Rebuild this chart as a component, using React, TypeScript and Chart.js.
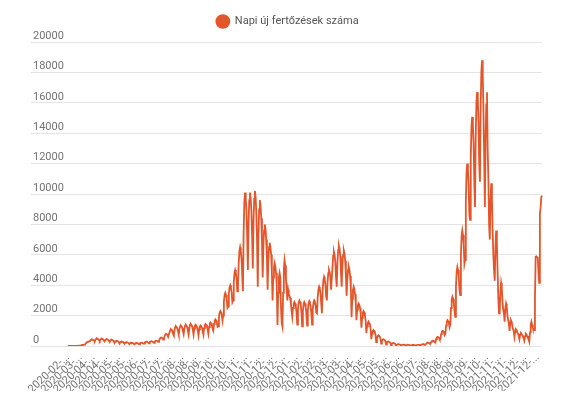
import React, { useEffect, useRef } from "react";
import { Chart, registerables } from "chart.js";

Chart.register(...registerables);

const SERIES_LABEL = "Napi új fertőzések száma";
const START_DATE = [2020, 1, 28]; // 2020-02-28 (month is 0-based)
const LABEL_STEP = 18;
const Y_MIN = 0;
const Y_MAX = 20000;
const Y_STEP = 2000;

// daily new infections
const cases2020Spring = [
  0, 1, 0,
  0, 1, 1, 2, 1, 2, 3,
  3, 5, 8, 10, 12, 16, 20,
  25, 35, 50, 60, 75, 80, 90,
  120, 160, 210, 250, 270, 280, 300,
  330, 380, 410, 430, 420, 390, 340,
  320, 420, 470, 500, 480, 440, 380,
  330, 420, 460, 480, 460, 420, 360,
  300, 390, 430, 450, 430, 400, 340,
  260, 360, 400, 420, 400, 360, 300,
  200, 290, 330, 350, 330, 300, 250,
  160, 240, 280, 300, 290, 260, 210,
  140, 210, 240, 250, 240, 220, 180,
  120, 180, 210, 220, 210, 190, 160,
  110, 160, 190, 200, 190, 170, 150,
  110, 170, 210, 220, 210, 190, 160,
  150, 230, 270, 280, 270, 250, 210,
  180, 260, 300, 320, 310, 280, 240,
  200, 290, 330, 350, 340, 310, 270,
];

const cases2020Autumn = [
  300, 450, 530, 560, 540, 500, 420,
  450, 660, 760, 800, 780, 720, 600,
  600, 900, 1050, 1100, 1060, 980, 800,
  700, 1060, 1240, 1300, 1250, 1150, 950,
  750, 1110, 1290, 1350, 1300, 1190, 980,
  800, 1160, 1340, 1400, 1340, 1230, 1000,
  750, 1170, 1380, 1450, 1390, 1280, 1040,
  750, 1140, 1340, 1400, 1340, 1230, 1000,
  700, 1090, 1290, 1350, 1300, 1190, 970,
  750, 1170, 1380, 1450, 1390, 1280, 1040,
  800, 1250, 1480, 1550, 1490, 1360, 1120,
  1000, 1450, 1680, 1750, 1680, 1540, 1260,
  1300, 1900, 2200, 2300, 2210, 2020, 1660,
  2000, 2900, 3350, 3500, 3360, 3080, 2520,
  2600, 3440, 3860, 4000, 3840, 3520, 2880,
  3000, 4200, 4800, 5000, 4800, 4400, 3600,
  3900, 5460, 6240, 6500, 6240, 5720, 4680,
  3600, 7500, 9450, 10100, 9700, 8900, 7270,
  5000, 8060, 9590, 10100, 9700, 8890, 7270,
  5100, 8200, 9700, 10200, 9800, 8700, 7000,
  3900, 7300, 9000, 9600, 9200, 8400, 6900,
  4500, 6600, 7600, 8000, 7700, 7000, 5800,
  3700, 5600, 6500, 6800, 6500, 6000, 4900,
  3000, 4500, 5200, 5450, 5200, 4800, 3900,
  1380, 3500, 4500, 4800, 4500, 2500, 1500,
  1270, 3500, 5000, 5650, 5300, 4400, 3700,
  3000, 3700, 3400, 3300, 3150, 2800, 2300,
];

const cases2021Spring = [
  1920, 2500, 2800, 2900, 2800, 2600, 2200,
  1400, 2400, 2850, 3000, 2900, 2700, 2200,
  1300, 2300, 2750, 2900, 2800, 2550, 2100,
  1350, 2350, 2800, 2950, 2850, 2600, 2150,
  1400, 2400, 2850, 3000, 2900, 2650, 2200,
  2150, 3200, 3700, 3900, 3750, 3450, 2800,
  2150, 3600, 4300, 4550, 4400, 4000, 3300,
  3000, 4200, 4800, 5000, 4850, 4500, 3700,
  3700, 5200, 5950, 6200, 6000, 5500, 4500,
  3900, 5500, 6300, 6600, 6400, 5900, 4800,
  3900, 5300, 6000, 6300, 6100, 5600, 4600,
  3300, 4400, 5000, 5200, 5000, 4600, 3800,
  1900, 3100, 3700, 3900, 3700, 3400, 2800,
  1700, 2400, 2700, 2800, 2700, 2500, 2100,
  1200, 1850, 2200, 2300, 2200, 2000, 1650,
  850, 1300, 1500, 1600, 1500, 1400, 1150,
  450, 800, 980, 1050, 1000, 900, 720,
  250, 520, 650, 700, 660, 600, 480,
  150, 330, 420, 450, 430, 390, 310,
  100, 220, 280, 300, 280, 250, 200,
  60, 140, 180, 200, 190, 170, 130,
  40, 90, 110, 120, 110, 100, 80,
  30, 60, 80, 90, 85, 75, 55,
  30, 55, 75, 80, 75, 65, 50,
  25, 50, 65, 70, 65, 60, 45,
  30, 60, 75, 80, 80, 70, 55,
];

const cases2021Autumn = [
  50, 90, 110, 120, 115, 105, 85,
  90, 160, 200, 220, 210, 190, 150,
  150, 270, 330, 350, 340, 310, 250,
  250, 460, 560, 600, 580, 530, 430,
  450, 780, 950, 1000, 970, 900, 720,
  800, 1340, 1620, 1700, 1640, 1500, 1230,
  1400, 2500, 3050, 3240, 3100, 2850, 2300,
  1920, 3900, 4900, 5200, 5000, 4600, 3700,
  3350, 5900, 7200, 7600, 7300, 6700, 5400,
  5650, 9500, 11400, 12000, 11500, 10600, 8600,
  8300, 12400, 14400, 15070, 14500, 13300, 10800,
  9150, 13700, 16000, 16700, 16270, 14700, 12000,
  10800, 15600, 18000, 18800, 17800, 15500, 12500,
  9150, 13500, 15900, 16700, 12900, 10900, 8000,
  7000, 9500, 10700, 9800, 7600, 6000, 5000,
  4300, 6500, 7600, 6800, 5000, 3200, 2150,
  2150, 3600, 4150, 3800, 2900, 2400, 2150,
  1600, 2500, 2800, 2600, 2000, 1700, 1500,
  1000, 1500, 1700, 1600, 1300, 1100, 940,
  600, 950, 1100, 1050, 900, 800, 650,
  450, 750, 850, 800, 700, 620, 500,
  350, 650, 800, 750, 650, 550, 420,
  280, 900, 1400, 1600, 1400, 1200, 1050,
  1050, 3000, 5870, 5900, 5850, 5800, 4800,
  4150, 8700, 9100, 9800, 9900,
];

const dailyCases = [
  ...cases2020Spring,
  ...cases2020Autumn,
  ...cases2021Spring,
  ...cases2021Autumn,
];

// category labels: one date per data point
const dateLabels: string[] = dailyCases.map((_, i) =>
  new Date(Date.UTC(START_DATE[0], START_DATE[1], START_DATE[2]) + i * 86400000)
    .toISOString()
    .slice(0, 10)
);

const LINE_COLOR = "#e3562b";
const TICK_COLOR = "#737373";
const GRID_COLOR = "#e4e4e4";

const legendHeightPlugin = {
  id: "legendHeight",
  beforeInit(chart: any) {
    const legend = chart.legend;
    if (!legend || legend.__patched) return;
    const origFit = legend.fit;
    legend.fit = function () {
      origFit.call(this);
      this.height = 34;
    };
    legend.__patched = true;
  },
};

export default function App() {
  const canvasRef = useRef<HTMLCanvasElement | null>(null);

  useEffect(() => {
    if (!canvasRef.current) return;
    Chart.defaults.font.family = "Roboto";
    const chart = new Chart(canvasRef.current, {
      type: "line",
      data: {
        labels: dateLabels,
        datasets: [
          {
            label: SERIES_LABEL,
            data: dailyCases,
            borderColor: LINE_COLOR,
            backgroundColor: LINE_COLOR,
            borderWidth: 1.8,
            pointRadius: 0,
            pointHoverRadius: 0,
            tension: 0,
            fill: false,
          },
        ],
      },
      options: {
        animation: false,
        responsive: true,
        maintainAspectRatio: false,
        layout: { padding: { left: 25, right: 25, top: 0, bottom: 0 } },
        plugins: {
          legend: {
            display: true,
            position: "top",
            labels: {
              usePointStyle: true,
              pointStyle: "circle",
              boxWidth: 9,
              boxHeight: 9,
              pointStyleWidth: 13,
              padding: 8,
              color: "#555555",
              font: { size: 11, family: "Roboto" },
            },
          },
          tooltip: { enabled: false },
        },
        scales: {
          x: {
            type: "category",
            grid: { display: false, drawTicks: false },
            border: { display: false },
            afterFit: (scale: any) => {
              scale.height = 45;
            },
            ticks: {
              autoSkip: false,
              minRotation: 43,
              maxRotation: 43,
              padding: 5,
              color: TICK_COLOR,
              font: { size: 11, family: "Roboto" },
              callback: (_v: any, index: number) =>
                index % LABEL_STEP === 0 ? dateLabels[index].slice(0, 8) + "..." : null,
            },
          },
          y: {
            min: Y_MIN,
            max: Y_MAX,
            afterFit: (scale: any) => {
              scale.width = 35;
            },
            grid: { color: GRID_COLOR, tickLength: 37, drawTicks: true, lineWidth: 1 },
            border: { display: false },
            ticks: {
              stepSize: Y_STEP,
              crossAlign: "far",
              labelOffset: -6,
              padding: 0,
              color: TICK_COLOR,
              font: { size: 11, family: "Roboto" },
              callback: (value: any) => String(value),
            },
          },
        },
      },
      plugins: [legendHeightPlugin],
    });
    return () => chart.destroy();
  }, []);

  return (
    <div style={{ position: "relative", width: 559, height: 383 }}>
      <canvas ref={canvasRef} />
    </div>
  );
}
